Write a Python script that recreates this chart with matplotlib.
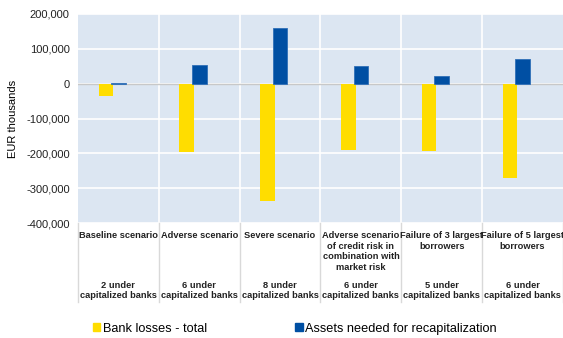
import numpy as np
import matplotlib.pyplot as plt
from matplotlib.patches import Patch
from matplotlib.ticker import FuncFormatter

plt.rcParams['font.family'] = ['Liberation Sans', 'DejaVu Sans']

scenarios = ['Baseline scenario', 'Adverse scenario', 'Severe scenario',
             'Adverse scenario\nof credit risk in\ncombination with\nmarket risk',
             'Failure of 3 largest\nborrowers', 'Failure of 5 largest\nborrowers']
undercap = ['2 under\ncapitalized banks', '6 under\ncapitalized banks',
            '8 under\ncapitalized banks', '6 under\ncapitalized banks',
            '5 under\ncapitalized banks', '6 under\ncapitalized banks']
bank_losses = [-35000, -197000, -338000, -190000, -192000, -270000]
recap_assets = [3000, 53000, 160000, 52000, 22000, 72000]


def main():
    fig = plt.figure(figsize=(5.63, 3.38), dpi=100)
    ax = fig.add_axes([0.1385, 0.340, 0.8615, 0.6186])
    ax.set_facecolor('#dce6f2')

    x = np.arange(len(scenarios))
    w = 0.18
    ax.bar(x - 0.155, bank_losses, w, color='#ffdd00', zorder=3)
    ax.bar(x, recap_assets, w, color='#004fa3', edgecolor='#2f6fb8',
           linewidth=0.6, zorder=3)

    ax.set_xlim(-0.5, len(scenarios) - 0.5)
    ax.set_ylim(-400000, 200000)
    ax.set_yticks(np.arange(-400000, 200001, 100000))
    ax.yaxis.set_major_formatter(FuncFormatter(lambda v, p: f'{int(v):,}'))
    ax.tick_params(axis='y', length=0, labelsize=8, pad=6, colors='#222222')
    ax.set_xticks([])
    ax.grid(axis='y', color='white', linewidth=1.2, zorder=1)
    for b in np.arange(0.5, len(scenarios) - 0.5):
        ax.axvline(b, color='white', linewidth=1.2, zorder=1)
    ax.axhline(0, color='#c8c8c8', linewidth=1, zorder=2)
    for s in ax.spines.values():
        s.set_visible(False)
    ax.set_ylabel('EUR thousands', fontsize=8, labelpad=6)

    # multi-level category labels below the axes
    tr = ax.get_xaxis_transform()
    for i in range(len(scenarios)):
        ax.text(i, -0.04, scenarios[i], transform=tr, ha='center', va='top',
                fontsize=6.7, fontweight='bold', linespacing=1.2, color='#222222')
        ax.text(i, -0.275, undercap[i], transform=tr, ha='center', va='top',
                fontsize=6.7, fontweight='bold', linespacing=1.2, color='#222222')
    for b in np.arange(-0.5, len(scenarios)):
        ax.plot([b, b], [0, -0.378], transform=tr, color='#d9d9d9',
                linewidth=1, clip_on=False)

    handles = [Patch(color='#ffdd00', label='Bank losses - total'),
               Patch(color='#004fa3', label='Assets needed for recapitalization')]
    fig.legend(handles=handles, loc='center left', bbox_to_anchor=(0.144, 0.027),
               ncol=2, frameon=False, fontsize=9.2, handlelength=0.6,
               handleheight=0.6, handletextpad=0.2, columnspacing=6.9)

    fig.savefig('out.png', dpi=100)


if __name__ == "__main__":
    main()
